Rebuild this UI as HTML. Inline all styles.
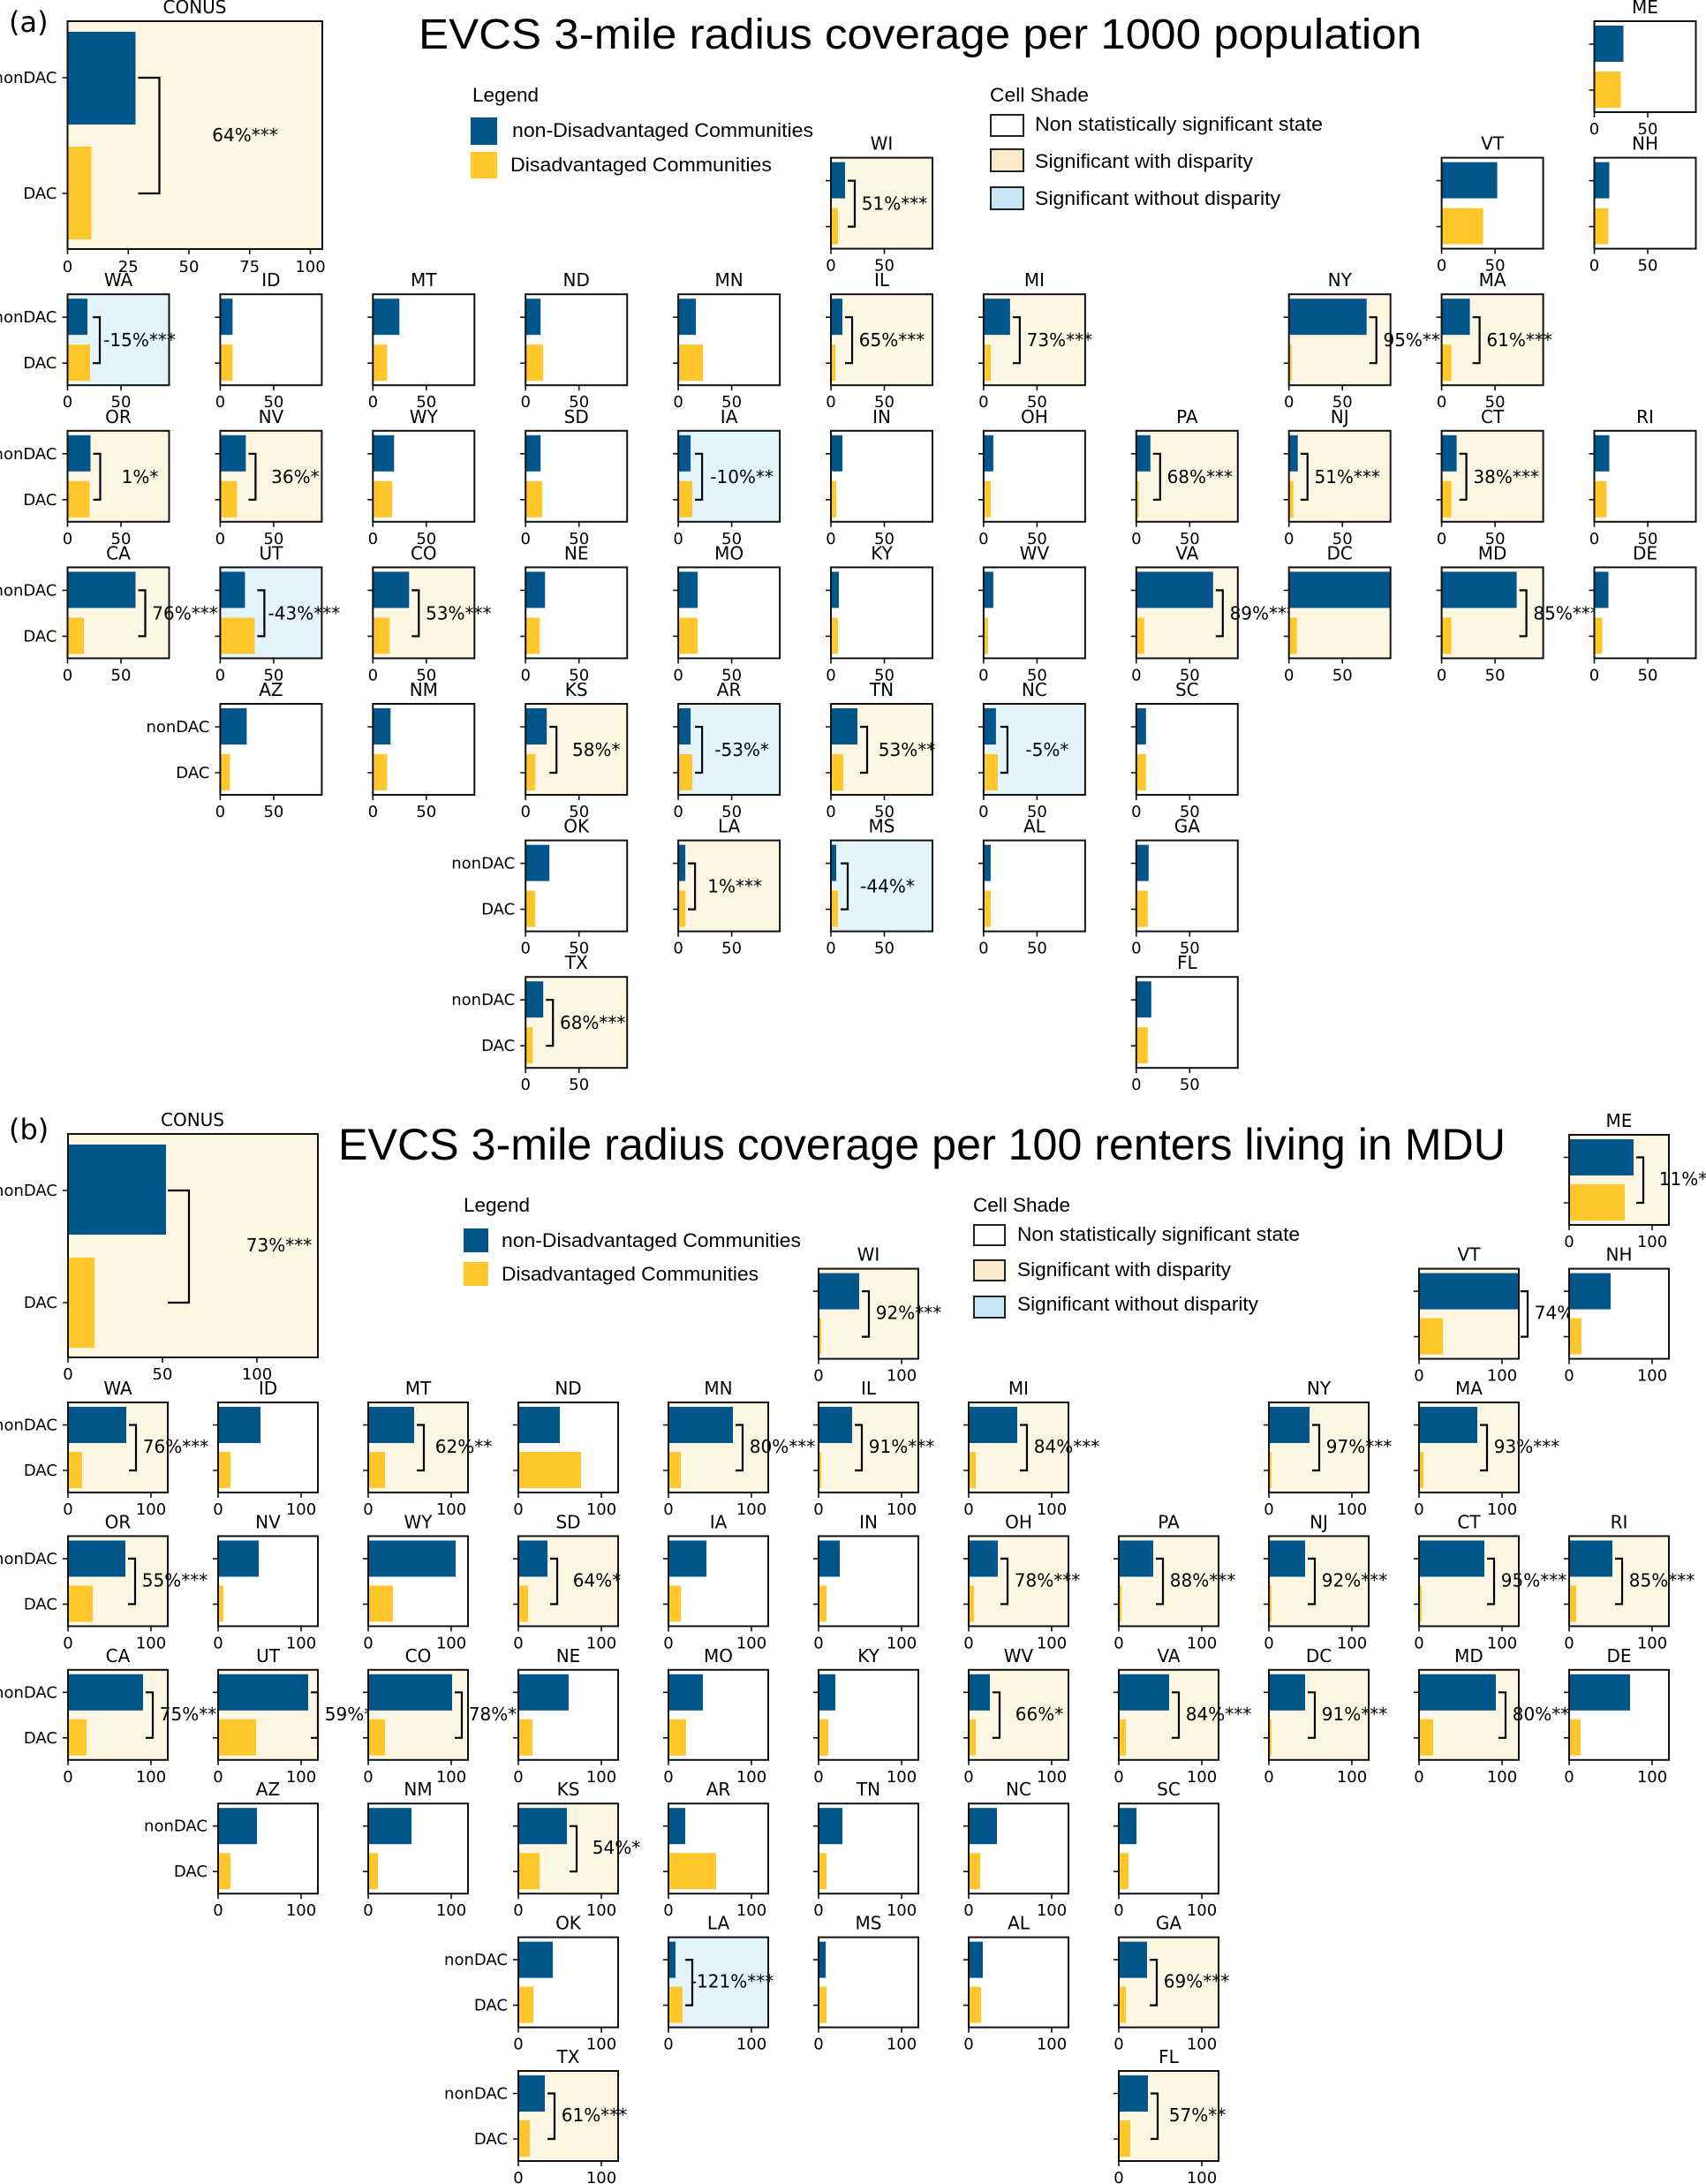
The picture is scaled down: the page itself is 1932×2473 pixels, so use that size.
<!DOCTYPE html>
<html><head><meta charset="utf-8"><style>
html,body{margin:0;padding:0;background:#fff}
svg{display:block}
.t{font-family:"DejaVu Sans",sans-serif;font-size:20px;text-anchor:middle;fill:#000}
.k{font-family:"DejaVu Sans",sans-serif;font-size:18px;text-anchor:middle;fill:#000}
.y{font-family:"DejaVu Sans",sans-serif;font-size:18px;text-anchor:end;fill:#000}
.a{font-family:"DejaVu Sans",sans-serif;font-size:20px;text-anchor:middle;fill:#000}
.L{font-family:"Liberation Sans",Arial,sans-serif;font-size:22px;fill:#000}
.T{font-family:"Liberation Sans",Arial,sans-serif;font-size:48px;fill:#000}
.br{fill:none;stroke:#000;stroke-width:2.2}
.fr{fill:none;stroke:#111;stroke-width:2}
.tk{stroke:#111;stroke-width:1.6}
</style></head><body>
<svg xmlns="http://www.w3.org/2000/svg" xmlns:xlink="http://www.w3.org/1999/xlink" width="1932" height="2473" viewBox="0 0 1932 2473">
<defs>
<path id="ta" class="tk" d="M0 103v6M60.5 103v6M0 26h-6M0 78h-6"/>
<path id="tb" class="tk" d="M0 102v6M94 102v6M0 25.5h-6M0 77h-6"/>
<rect id="fa" class="fr" width="115" height="103"/>
<rect id="fb" class="fr" width="113" height="102"/>
</defs>
<rect width="1932" height="2473" fill="#fff"/>

<!-- ===================== (a) ===================== -->
<text x="10" y="36" font-family="DejaVu Sans,sans-serif" font-size="32">(a)</text>
<text class="T" x="474" y="55" textLength="1136" lengthAdjust="spacingAndGlyphs">EVCS 3-mile radius coverage per 1000 population</text>
<text class="L" x="535" y="115" textLength="75" lengthAdjust="spacingAndGlyphs">Legend</text>
<rect x="533" y="133" width="30" height="31" fill="#03568a"/>
<text class="L" x="580" y="155" textLength="341" lengthAdjust="spacingAndGlyphs">non-Disadvantaged Communities</text>
<rect x="533" y="172" width="30" height="30" fill="#ffc72c"/>
<text class="L" x="578" y="194" textLength="296" lengthAdjust="spacingAndGlyphs">Disadvantaged Communities</text>
<text class="L" x="1121" y="115" textLength="112" lengthAdjust="spacingAndGlyphs">Cell Shade</text>
<rect x="1122" y="130" width="37" height="24" fill="#fff" stroke="#222" stroke-width="2"/>
<text class="L" x="1172" y="148" textLength="326" lengthAdjust="spacingAndGlyphs">Non statistically significant state</text>
<rect x="1122" y="169" width="37" height="25" fill="#f9ebc9" stroke="#222" stroke-width="2"/>
<text class="L" x="1172" y="190" textLength="247" lengthAdjust="spacingAndGlyphs">Significant with disparity</text>
<rect x="1122" y="212" width="37" height="25" fill="#c6e5f5" stroke="#222" stroke-width="2"/>
<text class="L" x="1172" y="232" textLength="278" lengthAdjust="spacingAndGlyphs">Significant without disparity</text>

<!-- CONUS a -->
<g transform="translate(76.5,24)">
<rect width="288.5" height="258" fill="#fdf6e3"/>
<rect y="12" width="77" height="105" fill="#03568a"/>
<rect y="142" width="27" height="105" fill="#ffc72c"/>
<path class="br" d="M80 64H104V195H80"/>
<text class="a" x="201" y="136">64%***</text>
<rect class="fr" width="288.5" height="258"/>
<path class="tk" d="M0 258v6M68.75 258v6M137.5 258v6M206.25 258v6M275 258v6M0 64h-6M0 195h-6"/>
<text class="t" x="144" y="-9">CONUS</text>
<text class="y" x="-12" y="70">nonDAC</text><text class="y" x="-12" y="201">DAC</text>
<text class="k" x="0" y="284">0</text><text class="k" x="68.75" y="284">25</text><text class="k" x="137.5" y="284">50</text><text class="k" x="206.25" y="284">75</text><text class="k" x="275" y="284">100</text>
</g>

<!-- row -2 / -1 -->
<g transform="translate(1805.5,24)"><rect width="115" height="103" fill="#fff"/><rect y="5" width="33" height="41" fill="#03568a"/><rect y="57" width="30" height="41" fill="#ffc72c"/><use xlink:href="#fa"/><use xlink:href="#ta"/><text class="t" x="57.5" y="-9">ME</text><text class="k" x="0" y="128">0</text><text class="k" x="60.5" y="128">50</text></g>
<g transform="translate(941,178.6)"><rect width="115" height="103" fill="#fdf6e3"/><rect y="5" width="16" height="41" fill="#03568a"/><rect y="57" width="8" height="41" fill="#ffc72c"/><path class="br" d="M19 26H27V78H19"/><text class="a" x="72" y="59">51%***</text><use xlink:href="#fa"/><use xlink:href="#ta"/><text class="t" x="57.5" y="-9">WI</text><text class="k" x="0" y="128">0</text><text class="k" x="60.5" y="128">50</text></g>
<g transform="translate(1632.6,178.6)"><rect width="115" height="103" fill="#fff"/><rect y="5" width="63" height="41" fill="#03568a"/><rect y="57" width="47" height="41" fill="#ffc72c"/><use xlink:href="#fa"/><use xlink:href="#ta"/><text class="t" x="57.5" y="-9">VT</text><text class="k" x="0" y="128">0</text><text class="k" x="60.5" y="128">50</text></g>
<g transform="translate(1805.5,178.6)"><rect width="115" height="103" fill="#fff"/><rect y="5" width="17" height="41" fill="#03568a"/><rect y="57" width="16" height="41" fill="#ffc72c"/><use xlink:href="#fa"/><use xlink:href="#ta"/><text class="t" x="57.5" y="-9">NH</text><text class="k" x="0" y="128">0</text><text class="k" x="60.5" y="128">50</text></g>

<!-- row 0 a -->
<g transform="translate(76.5,333.2)"><rect width="115" height="103" fill="#e3f4fc"/><rect y="5" width="22.5" height="41" fill="#03568a"/><rect y="57" width="25.5" height="41" fill="#ffc72c"/><path class="br" d="M28.5 26H36.5V78H28.5"/><text class="a" x="81.5" y="59">-15%***</text><use xlink:href="#fa"/><use xlink:href="#ta"/><text class="t" x="57.5" y="-9">WA</text><text class="y" x="-12" y="32">nonDAC</text><text class="y" x="-12" y="84">DAC</text><text class="k" x="0" y="128">0</text><text class="k" x="60.5" y="128">50</text></g>
<g transform="translate(249.4,333.2)"><rect width="115" height="103" fill="#fff"/><rect y="5" width="14" height="41" fill="#03568a"/><rect y="57" width="14" height="41" fill="#ffc72c"/><use xlink:href="#fa"/><use xlink:href="#ta"/><text class="t" x="57.5" y="-9">ID</text><text class="k" x="0" y="128">0</text><text class="k" x="60.5" y="128">50</text></g>
<g transform="translate(422.3,333.2)"><rect width="115" height="103" fill="#fff"/><rect y="5" width="30" height="41" fill="#03568a"/><rect y="57" width="16" height="41" fill="#ffc72c"/><use xlink:href="#fa"/><use xlink:href="#ta"/><text class="t" x="57.5" y="-9">MT</text><text class="k" x="0" y="128">0</text><text class="k" x="60.5" y="128">50</text></g>
<g transform="translate(595.2,333.2)"><rect width="115" height="103" fill="#fff"/><rect y="5" width="17" height="41" fill="#03568a"/><rect y="57" width="20" height="41" fill="#ffc72c"/><use xlink:href="#fa"/><use xlink:href="#ta"/><text class="t" x="57.5" y="-9">ND</text><text class="k" x="0" y="128">0</text><text class="k" x="60.5" y="128">50</text></g>
<g transform="translate(768.1,333.2)"><rect width="115" height="103" fill="#fff"/><rect y="5" width="20" height="41" fill="#03568a"/><rect y="57" width="28" height="41" fill="#ffc72c"/><use xlink:href="#fa"/><use xlink:href="#ta"/><text class="t" x="57.5" y="-9">MN</text><text class="k" x="0" y="128">0</text><text class="k" x="60.5" y="128">50</text></g>
<g transform="translate(941,333.2)"><rect width="115" height="103" fill="#fdf6e3"/><rect y="5" width="13" height="41" fill="#03568a"/><rect y="57" width="5" height="41" fill="#ffc72c"/><path class="br" d="M16 26H24V78H16"/><text class="a" x="69" y="59">65%***</text><use xlink:href="#fa"/><use xlink:href="#ta"/><text class="t" x="57.5" y="-9">IL</text><text class="k" x="0" y="128">0</text><text class="k" x="60.5" y="128">50</text></g>
<g transform="translate(1113.9,333.2)"><rect width="115" height="103" fill="#fdf6e3"/><rect y="5" width="30" height="41" fill="#03568a"/><rect y="57" width="8" height="41" fill="#ffc72c"/><path class="br" d="M33 26H41V78H33"/><text class="a" x="86" y="59">73%***</text><use xlink:href="#fa"/><use xlink:href="#ta"/><text class="t" x="57.5" y="-9">MI</text><text class="k" x="0" y="128">0</text><text class="k" x="60.5" y="128">50</text></g>
<g transform="translate(1459.7,333.2)"><rect width="115" height="103" fill="#fdf6e3"/><rect y="5" width="88" height="41" fill="#03568a"/><rect y="57" width="3" height="41" fill="#ffc72c"/><path class="br" d="M91 26H99V78H91"/><text class="a" x="144" y="59">95%***</text><use xlink:href="#fa"/><use xlink:href="#ta"/><text class="t" x="57.5" y="-9">NY</text><text class="k" x="0" y="128">0</text><text class="k" x="60.5" y="128">50</text></g>
<g transform="translate(1632.6,333.2)"><rect width="115" height="103" fill="#fdf6e3"/><rect y="5" width="32" height="41" fill="#03568a"/><rect y="57" width="11" height="41" fill="#ffc72c"/><path class="br" d="M35 26H43V78H35"/><text class="a" x="88" y="59">61%***</text><use xlink:href="#fa"/><use xlink:href="#ta"/><text class="t" x="57.5" y="-9">MA</text><text class="k" x="0" y="128">0</text><text class="k" x="60.5" y="128">50</text></g>

<!-- row 1 a -->
<g transform="translate(76.5,487.8)"><rect width="115" height="103" fill="#fdf6e3"/><rect y="5" width="26" height="41" fill="#03568a"/><rect y="57" width="25" height="41" fill="#ffc72c"/><path class="br" d="M29 26H37V78H29"/><text class="a" x="82" y="59">1%*</text><use xlink:href="#fa"/><use xlink:href="#ta"/><text class="t" x="57.5" y="-9">OR</text><text class="y" x="-12" y="32">nonDAC</text><text class="y" x="-12" y="84">DAC</text><text class="k" x="0" y="128">0</text><text class="k" x="60.5" y="128">50</text></g>
<g transform="translate(249.4,487.8)"><rect width="115" height="103" fill="#fdf6e3"/><rect y="5" width="29" height="41" fill="#03568a"/><rect y="57" width="19" height="41" fill="#ffc72c"/><path class="br" d="M32 26H40V78H32"/><text class="a" x="85" y="59">36%*</text><use xlink:href="#fa"/><use xlink:href="#ta"/><text class="t" x="57.5" y="-9">NV</text><text class="k" x="0" y="128">0</text><text class="k" x="60.5" y="128">50</text></g>
<g transform="translate(422.3,487.8)"><rect width="115" height="103" fill="#fff"/><rect y="5" width="24" height="41" fill="#03568a"/><rect y="57" width="22" height="41" fill="#ffc72c"/><use xlink:href="#fa"/><use xlink:href="#ta"/><text class="t" x="57.5" y="-9">WY</text><text class="k" x="0" y="128">0</text><text class="k" x="60.5" y="128">50</text></g>
<g transform="translate(595.2,487.8)"><rect width="115" height="103" fill="#fff"/><rect y="5" width="17" height="41" fill="#03568a"/><rect y="57" width="19" height="41" fill="#ffc72c"/><use xlink:href="#fa"/><use xlink:href="#ta"/><text class="t" x="57.5" y="-9">SD</text><text class="k" x="0" y="128">0</text><text class="k" x="60.5" y="128">50</text></g>
<g transform="translate(768.1,487.8)"><rect width="115" height="103" fill="#e3f4fc"/><rect y="5" width="14" height="41" fill="#03568a"/><rect y="57" width="16" height="41" fill="#ffc72c"/><path class="br" d="M19 26H27V78H19"/><text class="a" x="72" y="59">-10%**</text><use xlink:href="#fa"/><use xlink:href="#ta"/><text class="t" x="57.5" y="-9">IA</text><text class="k" x="0" y="128">0</text><text class="k" x="60.5" y="128">50</text></g>
<g transform="translate(941,487.8)"><rect width="115" height="103" fill="#fff"/><rect y="5" width="13" height="41" fill="#03568a"/><rect y="57" width="6" height="41" fill="#ffc72c"/><use xlink:href="#fa"/><use xlink:href="#ta"/><text class="t" x="57.5" y="-9">IN</text><text class="k" x="0" y="128">0</text><text class="k" x="60.5" y="128">50</text></g>
<g transform="translate(1113.9,487.8)"><rect width="115" height="103" fill="#fff"/><rect y="5" width="11" height="41" fill="#03568a"/><rect y="57" width="8" height="41" fill="#ffc72c"/><use xlink:href="#fa"/><use xlink:href="#ta"/><text class="t" x="57.5" y="-9">OH</text><text class="k" x="0" y="128">0</text><text class="k" x="60.5" y="128">50</text></g>
<g transform="translate(1286.8,487.8)"><rect width="115" height="103" fill="#fdf6e3"/><rect y="5" width="16" height="41" fill="#03568a"/><rect y="57" width="3" height="41" fill="#ffc72c"/><path class="br" d="M19 26H27V78H19"/><text class="a" x="72" y="59">68%***</text><use xlink:href="#fa"/><use xlink:href="#ta"/><text class="t" x="57.5" y="-9">PA</text><text class="k" x="0" y="128">0</text><text class="k" x="60.5" y="128">50</text></g>
<g transform="translate(1459.7,487.8)"><rect width="115" height="103" fill="#fdf6e3"/><rect y="5" width="10" height="41" fill="#03568a"/><rect y="57" width="5" height="41" fill="#ffc72c"/><path class="br" d="M13 26H21V78H13"/><text class="a" x="66" y="59">51%***</text><use xlink:href="#fa"/><use xlink:href="#ta"/><text class="t" x="57.5" y="-9">NJ</text><text class="k" x="0" y="128">0</text><text class="k" x="60.5" y="128">50</text></g>
<g transform="translate(1632.6,487.8)"><rect width="115" height="103" fill="#fdf6e3"/><rect y="5" width="17" height="41" fill="#03568a"/><rect y="57" width="11" height="41" fill="#ffc72c"/><path class="br" d="M20 26H28V78H20"/><text class="a" x="73" y="59">38%***</text><use xlink:href="#fa"/><use xlink:href="#ta"/><text class="t" x="57.5" y="-9">CT</text><text class="k" x="0" y="128">0</text><text class="k" x="60.5" y="128">50</text></g>
<g transform="translate(1805.5,487.8)"><rect width="115" height="103" fill="#fff"/><rect y="5" width="17" height="41" fill="#03568a"/><rect y="57" width="14" height="41" fill="#ffc72c"/><use xlink:href="#fa"/><use xlink:href="#ta"/><text class="t" x="57.5" y="-9">RI</text><text class="k" x="0" y="128">0</text><text class="k" x="60.5" y="128">50</text></g>

<!-- row 2 a -->
<g transform="translate(76.5,642.4)"><rect width="115" height="103" fill="#fdf6e3"/><rect y="5" width="77" height="41" fill="#03568a"/><rect y="57" width="18.5" height="41" fill="#ffc72c"/><path class="br" d="M80 26H88V78H80"/><text class="a" x="133" y="59">76%***</text><use xlink:href="#fa"/><use xlink:href="#ta"/><text class="t" x="57.5" y="-9">CA</text><text class="y" x="-12" y="32">nonDAC</text><text class="y" x="-12" y="84">DAC</text><text class="k" x="0" y="128">0</text><text class="k" x="60.5" y="128">50</text></g>
<g transform="translate(249.4,642.4)"><rect width="115" height="103" fill="#e3f4fc"/><rect y="5" width="28" height="41" fill="#03568a"/><rect y="57" width="39" height="41" fill="#ffc72c"/><path class="br" d="M42 26H50V78H42"/><text class="a" x="95" y="59">-43%***</text><use xlink:href="#fa"/><use xlink:href="#ta"/><text class="t" x="57.5" y="-9">UT</text><text class="k" x="0" y="128">0</text><text class="k" x="60.5" y="128">50</text></g>
<g transform="translate(422.3,642.4)"><rect width="115" height="103" fill="#fdf6e3"/><rect y="5" width="41" height="41" fill="#03568a"/><rect y="57" width="19" height="41" fill="#ffc72c"/><path class="br" d="M44 26H52V78H44"/><text class="a" x="97" y="59">53%***</text><use xlink:href="#fa"/><use xlink:href="#ta"/><text class="t" x="57.5" y="-9">CO</text><text class="k" x="0" y="128">0</text><text class="k" x="60.5" y="128">50</text></g>
<g transform="translate(595.2,642.4)"><rect width="115" height="103" fill="#fff"/><rect y="5" width="22" height="41" fill="#03568a"/><rect y="57" width="16" height="41" fill="#ffc72c"/><use xlink:href="#fa"/><use xlink:href="#ta"/><text class="t" x="57.5" y="-9">NE</text><text class="k" x="0" y="128">0</text><text class="k" x="60.5" y="128">50</text></g>
<g transform="translate(768.1,642.4)"><rect width="115" height="103" fill="#fff"/><rect y="5" width="22" height="41" fill="#03568a"/><rect y="57" width="22" height="41" fill="#ffc72c"/><use xlink:href="#fa"/><use xlink:href="#ta"/><text class="t" x="57.5" y="-9">MO</text><text class="k" x="0" y="128">0</text><text class="k" x="60.5" y="128">50</text></g>
<g transform="translate(941,642.4)"><rect width="115" height="103" fill="#fff"/><rect y="5" width="9" height="41" fill="#03568a"/><rect y="57" width="8" height="41" fill="#ffc72c"/><use xlink:href="#fa"/><use xlink:href="#ta"/><text class="t" x="57.5" y="-9">KY</text><text class="k" x="0" y="128">0</text><text class="k" x="60.5" y="128">50</text></g>
<g transform="translate(1113.9,642.4)"><rect width="115" height="103" fill="#fff"/><rect y="5" width="11" height="41" fill="#03568a"/><rect y="57" width="5" height="41" fill="#ffc72c"/><use xlink:href="#fa"/><use xlink:href="#ta"/><text class="t" x="57.5" y="-9">WV</text><text class="k" x="0" y="128">0</text><text class="k" x="60.5" y="128">50</text></g>
<g transform="translate(1286.8,642.4)"><rect width="115" height="103" fill="#fdf6e3"/><rect y="5" width="87" height="41" fill="#03568a"/><rect y="57" width="9" height="41" fill="#ffc72c"/><path class="br" d="M90 26H98V78H90"/><text class="a" x="143" y="59">89%***</text><use xlink:href="#fa"/><use xlink:href="#ta"/><text class="t" x="57.5" y="-9">VA</text><text class="k" x="0" y="128">0</text><text class="k" x="60.5" y="128">50</text></g>
<g transform="translate(1459.7,642.4)"><rect width="115" height="103" fill="#fdf6e3"/><rect y="5" width="115" height="41" fill="#03568a"/><rect y="57" width="9" height="41" fill="#ffc72c"/><use xlink:href="#fa"/><use xlink:href="#ta"/><text class="t" x="57.5" y="-9">DC</text><text class="k" x="0" y="128">0</text><text class="k" x="60.5" y="128">50</text></g>
<g transform="translate(1632.6,642.4)"><rect width="115" height="103" fill="#fdf6e3"/><rect y="5" width="85" height="41" fill="#03568a"/><rect y="57" width="11" height="41" fill="#ffc72c"/><path class="br" d="M88 26H96V78H88"/><text class="a" x="141" y="59">85%***</text><use xlink:href="#fa"/><use xlink:href="#ta"/><text class="t" x="57.5" y="-9">MD</text><text class="k" x="0" y="128">0</text><text class="k" x="60.5" y="128">50</text></g>
<g transform="translate(1805.5,642.4)"><rect width="115" height="103" fill="#fff"/><rect y="5" width="16" height="41" fill="#03568a"/><rect y="57" width="9" height="41" fill="#ffc72c"/><use xlink:href="#fa"/><use xlink:href="#ta"/><text class="t" x="57.5" y="-9">DE</text><text class="k" x="0" y="128">0</text><text class="k" x="60.5" y="128">50</text></g>

<!-- row 3 a -->
<g transform="translate(249.4,797)"><rect width="115" height="103" fill="#fff"/><rect y="5" width="30" height="41" fill="#03568a"/><rect y="57" width="11" height="41" fill="#ffc72c"/><use xlink:href="#fa"/><use xlink:href="#ta"/><text class="t" x="57.5" y="-9">AZ</text><text class="y" x="-12" y="32">nonDAC</text><text class="y" x="-12" y="84">DAC</text><text class="k" x="0" y="128">0</text><text class="k" x="60.5" y="128">50</text></g>
<g transform="translate(422.3,797)"><rect width="115" height="103" fill="#fff"/><rect y="5" width="20" height="41" fill="#03568a"/><rect y="57" width="16" height="41" fill="#ffc72c"/><use xlink:href="#fa"/><use xlink:href="#ta"/><text class="t" x="57.5" y="-9">NM</text><text class="k" x="0" y="128">0</text><text class="k" x="60.5" y="128">50</text></g>
<g transform="translate(595.2,797)"><rect width="115" height="103" fill="#fdf6e3"/><rect y="5" width="24" height="41" fill="#03568a"/><rect y="57" width="11" height="41" fill="#ffc72c"/><path class="br" d="M27 26H35V78H27"/><text class="a" x="80" y="59">58%*</text><use xlink:href="#fa"/><use xlink:href="#ta"/><text class="t" x="57.5" y="-9">KS</text><text class="k" x="0" y="128">0</text><text class="k" x="60.5" y="128">50</text></g>
<g transform="translate(768.1,797)"><rect width="115" height="103" fill="#e3f4fc"/><rect y="5" width="14" height="41" fill="#03568a"/><rect y="57" width="16" height="41" fill="#ffc72c"/><path class="br" d="M19 26H27V78H19"/><text class="a" x="72" y="59">-53%*</text><use xlink:href="#fa"/><use xlink:href="#ta"/><text class="t" x="57.5" y="-9">AR</text><text class="k" x="0" y="128">0</text><text class="k" x="60.5" y="128">50</text></g>
<g transform="translate(941,797)"><rect width="115" height="103" fill="#fdf6e3"/><rect y="5" width="30" height="41" fill="#03568a"/><rect y="57" width="14" height="41" fill="#ffc72c"/><path class="br" d="M33 26H41V78H33"/><text class="a" x="86" y="59">53%**</text><use xlink:href="#fa"/><use xlink:href="#ta"/><text class="t" x="57.5" y="-9">TN</text><text class="k" x="0" y="128">0</text><text class="k" x="60.5" y="128">50</text></g>
<g transform="translate(1113.9,797)"><rect width="115" height="103" fill="#e3f4fc"/><rect y="5" width="14" height="41" fill="#03568a"/><rect y="57" width="16" height="41" fill="#ffc72c"/><path class="br" d="M19 26H27V78H19"/><text class="a" x="72" y="59">-5%*</text><use xlink:href="#fa"/><use xlink:href="#ta"/><text class="t" x="57.5" y="-9">NC</text><text class="k" x="0" y="128">0</text><text class="k" x="60.5" y="128">50</text></g>
<g transform="translate(1286.8,797)"><rect width="115" height="103" fill="#fff"/><rect y="5" width="11" height="41" fill="#03568a"/><rect y="57" width="11" height="41" fill="#ffc72c"/><use xlink:href="#fa"/><use xlink:href="#ta"/><text class="t" x="57.5" y="-9">SC</text><text class="k" x="0" y="128">0</text><text class="k" x="60.5" y="128">50</text></g>

<!-- row 4 a -->
<g transform="translate(595.2,951.6)"><rect width="115" height="103" fill="#fff"/><rect y="5" width="27" height="41" fill="#03568a"/><rect y="57" width="11" height="41" fill="#ffc72c"/><use xlink:href="#fa"/><use xlink:href="#ta"/><text class="t" x="57.5" y="-9">OK</text><text class="y" x="-12" y="32">nonDAC</text><text class="y" x="-12" y="84">DAC</text><text class="k" x="0" y="128">0</text><text class="k" x="60.5" y="128">50</text></g>
<g transform="translate(768.1,951.6)"><rect width="115" height="103" fill="#fdf6e3"/><rect y="5" width="8" height="41" fill="#03568a"/><rect y="57" width="8" height="41" fill="#ffc72c"/><path class="br" d="M11 26H19V78H11"/><text class="a" x="64" y="59">1%***</text><use xlink:href="#fa"/><use xlink:href="#ta"/><text class="t" x="57.5" y="-9">LA</text><text class="k" x="0" y="128">0</text><text class="k" x="60.5" y="128">50</text></g>
<g transform="translate(941,951.6)"><rect width="115" height="103" fill="#e3f4fc"/><rect y="5" width="6" height="41" fill="#03568a"/><rect y="57" width="8" height="41" fill="#ffc72c"/><path class="br" d="M11 26H19V78H11"/><text class="a" x="64" y="59">-44%*</text><use xlink:href="#fa"/><use xlink:href="#ta"/><text class="t" x="57.5" y="-9">MS</text><text class="k" x="0" y="128">0</text><text class="k" x="60.5" y="128">50</text></g>
<g transform="translate(1113.9,951.6)"><rect width="115" height="103" fill="#fff"/><rect y="5" width="8" height="41" fill="#03568a"/><rect y="57" width="8" height="41" fill="#ffc72c"/><use xlink:href="#fa"/><use xlink:href="#ta"/><text class="t" x="57.5" y="-9">AL</text><text class="k" x="0" y="128">0</text><text class="k" x="60.5" y="128">50</text></g>
<g transform="translate(1286.8,951.6)"><rect width="115" height="103" fill="#fff"/><rect y="5" width="14" height="41" fill="#03568a"/><rect y="57" width="13" height="41" fill="#ffc72c"/><use xlink:href="#fa"/><use xlink:href="#ta"/><text class="t" x="57.5" y="-9">GA</text><text class="k" x="0" y="128">0</text><text class="k" x="60.5" y="128">50</text></g>

<!-- row 5 a -->
<g transform="translate(595.2,1106.2)"><rect width="115" height="103" fill="#fdf6e3"/><rect y="5" width="20" height="41" fill="#03568a"/><rect y="57" width="8" height="41" fill="#ffc72c"/><path class="br" d="M23 26H31V78H23"/><text class="a" x="76" y="59">68%***</text><use xlink:href="#fa"/><use xlink:href="#ta"/><text class="t" x="57.5" y="-9">TX</text><text class="y" x="-12" y="32">nonDAC</text><text class="y" x="-12" y="84">DAC</text><text class="k" x="0" y="128">0</text><text class="k" x="60.5" y="128">50</text></g>
<g transform="translate(1286.8,1106.2)"><rect width="115" height="103" fill="#fff"/><rect y="5" width="17" height="41" fill="#03568a"/><rect y="57" width="13" height="41" fill="#ffc72c"/><use xlink:href="#fa"/><use xlink:href="#ta"/><text class="t" x="57.5" y="-9">FL</text><text class="k" x="0" y="128">0</text><text class="k" x="60.5" y="128">50</text></g>

<!-- ===================== (b) ===================== -->
<text x="10" y="1290" font-family="DejaVu Sans,sans-serif" font-size="32">(b)</text>
<text class="T" x="383" y="1313" font-size="50" textLength="1322" lengthAdjust="spacingAndGlyphs" style="font-size:50px">EVCS 3-mile radius coverage per 100 renters living in MDU</text>
<text class="L" x="525" y="1372" textLength="75" lengthAdjust="spacingAndGlyphs">Legend</text>
<rect x="525" y="1391" width="28" height="27" fill="#03568a"/>
<text class="L" x="568" y="1412" textLength="339" lengthAdjust="spacingAndGlyphs">non-Disadvantaged Communities</text>
<rect x="525" y="1429" width="28" height="27" fill="#ffc72c"/>
<text class="L" x="568" y="1450" textLength="291" lengthAdjust="spacingAndGlyphs">Disadvantaged Communities</text>
<text class="L" x="1102" y="1372" textLength="110" lengthAdjust="spacingAndGlyphs">Cell Shade</text>
<rect x="1103" y="1387" width="35" height="23" fill="#fff" stroke="#222" stroke-width="2"/>
<text class="L" x="1152" y="1405" textLength="320" lengthAdjust="spacingAndGlyphs">Non statistically significant state</text>
<rect x="1103" y="1427" width="35" height="23" fill="#f9ebc9" stroke="#222" stroke-width="2"/>
<text class="L" x="1152" y="1445" textLength="242" lengthAdjust="spacingAndGlyphs">Significant with disparity</text>
<rect x="1103" y="1468" width="35" height="24" fill="#c6e5f5" stroke="#222" stroke-width="2"/>
<text class="L" x="1152" y="1484" textLength="273" lengthAdjust="spacingAndGlyphs">Significant without disparity</text>

<!-- CONUS b -->
<g transform="translate(77,1284)">
<rect width="283" height="253" fill="#fdf6e3"/>
<rect y="12" width="111" height="102" fill="#03568a"/>
<rect y="140" width="30" height="102" fill="#ffc72c"/>
<path class="br" d="M113 64H137V191H113"/>
<text class="a" x="239" y="133">73%***</text>
<rect class="fr" width="283" height="253"/>
<path class="tk" d="M0 253v6M107 253v6M214 253v6M0 64h-6M0 191h-6"/>
<text class="t" x="141" y="-9">CONUS</text>
<text class="y" x="-12" y="70">nonDAC</text><text class="y" x="-12" y="197">DAC</text>
<text class="k" x="0" y="278">0</text><text class="k" x="107" y="278">50</text><text class="k" x="214" y="278">100</text>
</g>

<!-- row -2/-1 b -->
<g transform="translate(1777,1285)"><rect width="113" height="102" fill="#fdf6e3"/><rect y="5" width="73" height="41" fill="#03568a"/><rect y="56" width="63" height="41" fill="#ffc72c"/><path class="br" d="M76 25.5H84V77H76"/><text class="a" x="129" y="57">11%*</text><use xlink:href="#fb"/><use xlink:href="#tb"/><text class="t" x="56.5" y="-9">ME</text><text class="k" x="0" y="127">0</text><text class="k" x="94" y="127">100</text></g>
<g transform="translate(927,1436.6)"><rect width="113" height="102" fill="#fdf6e3"/><rect y="5" width="46" height="41" fill="#03568a"/><rect y="56" width="3" height="41" fill="#ffc72c"/><path class="br" d="M49 25.5H57V77H49"/><text class="a" x="102" y="57">92%***</text><use xlink:href="#fb"/><use xlink:href="#tb"/><text class="t" x="56.5" y="-9">WI</text><text class="k" x="0" y="127">0</text><text class="k" x="94" y="127">100</text></g>
<g transform="translate(1607,1436.6)"><rect width="113" height="102" fill="#fdf6e3"/><rect y="5" width="112" height="41" fill="#03568a"/><rect y="56" width="27" height="41" fill="#ffc72c"/><path class="br" d="M115 25.5H123V77H115"/><text class="a" x="168" y="57">74%***</text><use xlink:href="#fb"/><use xlink:href="#tb"/><text class="t" x="56.5" y="-9">VT</text><text class="k" x="0" y="127">0</text><text class="k" x="94" y="127">100</text></g>
<g transform="translate(1777,1436.6)"><rect width="113" height="102" fill="#fff"/><rect y="5" width="47" height="41" fill="#03568a"/><rect y="56" width="14" height="41" fill="#ffc72c"/><use xlink:href="#fb"/><use xlink:href="#tb"/><text class="t" x="56.5" y="-9">NH</text><text class="k" x="0" y="127">0</text><text class="k" x="94" y="127">100</text></g>

<!-- row 0 b -->
<g transform="translate(77,1588)"><rect width="113" height="102" fill="#fdf6e3"/><rect y="5" width="66" height="41" fill="#03568a"/><rect y="56" width="16" height="41" fill="#ffc72c"/><path class="br" d="M69 25.5H77V77H69"/><text class="a" x="122" y="57">76%***</text><use xlink:href="#fb"/><use xlink:href="#tb"/><text class="t" x="56.5" y="-9">WA</text><text class="y" x="-12" y="31.5">nonDAC</text><text class="y" x="-12" y="83">DAC</text><text class="k" x="0" y="127">0</text><text class="k" x="94" y="127">100</text></g>
<g transform="translate(247,1588)"><rect width="113" height="102" fill="#fff"/><rect y="5" width="48" height="41" fill="#03568a"/><rect y="56" width="14" height="41" fill="#ffc72c"/><use xlink:href="#fb"/><use xlink:href="#tb"/><text class="t" x="56.5" y="-9">ID</text><text class="k" x="0" y="127">0</text><text class="k" x="94" y="127">100</text></g>
<g transform="translate(417,1588)"><rect width="113" height="102" fill="#fdf6e3"/><rect y="5" width="52" height="41" fill="#03568a"/><rect y="56" width="19" height="41" fill="#ffc72c"/><path class="br" d="M55 25.5H63V77H55"/><text class="a" x="108" y="57">62%**</text><use xlink:href="#fb"/><use xlink:href="#tb"/><text class="t" x="56.5" y="-9">MT</text><text class="k" x="0" y="127">0</text><text class="k" x="94" y="127">100</text></g>
<g transform="translate(587,1588)"><rect width="113" height="102" fill="#fff"/><rect y="5" width="47" height="41" fill="#03568a"/><rect y="56" width="71" height="41" fill="#ffc72c"/><use xlink:href="#fb"/><use xlink:href="#tb"/><text class="t" x="56.5" y="-9">ND</text><text class="k" x="0" y="127">0</text><text class="k" x="94" y="127">100</text></g>
<g transform="translate(757,1588)"><rect width="113" height="102" fill="#fdf6e3"/><rect y="5" width="73" height="41" fill="#03568a"/><rect y="56" width="14" height="41" fill="#ffc72c"/><path class="br" d="M76 25.5H84V77H76"/><text class="a" x="129" y="57">80%***</text><use xlink:href="#fb"/><use xlink:href="#tb"/><text class="t" x="56.5" y="-9">MN</text><text class="k" x="0" y="127">0</text><text class="k" x="94" y="127">100</text></g>
<g transform="translate(927,1588)"><rect width="113" height="102" fill="#fdf6e3"/><rect y="5" width="38" height="41" fill="#03568a"/><rect y="56" width="3" height="41" fill="#ffc72c"/><path class="br" d="M41 25.5H49V77H41"/><text class="a" x="94" y="57">91%***</text><use xlink:href="#fb"/><use xlink:href="#tb"/><text class="t" x="56.5" y="-9">IL</text><text class="k" x="0" y="127">0</text><text class="k" x="94" y="127">100</text></g>
<g transform="translate(1097,1588)"><rect width="113" height="102" fill="#fdf6e3"/><rect y="5" width="55" height="41" fill="#03568a"/><rect y="56" width="8" height="41" fill="#ffc72c"/><path class="br" d="M58 25.5H66V77H58"/><text class="a" x="111" y="57">84%***</text><use xlink:href="#fb"/><use xlink:href="#tb"/><text class="t" x="56.5" y="-9">MI</text><text class="k" x="0" y="127">0</text><text class="k" x="94" y="127">100</text></g>
<g transform="translate(1437,1588)"><rect width="113" height="102" fill="#fdf6e3"/><rect y="5" width="46" height="41" fill="#03568a"/><rect y="56" width="3" height="41" fill="#ffc72c"/><path class="br" d="M49 25.5H57V77H49"/><text class="a" x="102" y="57">97%***</text><use xlink:href="#fb"/><use xlink:href="#tb"/><text class="t" x="56.5" y="-9">NY</text><text class="k" x="0" y="127">0</text><text class="k" x="94" y="127">100</text></g>
<g transform="translate(1607,1588)"><rect width="113" height="102" fill="#fdf6e3"/><rect y="5" width="66" height="41" fill="#03568a"/><rect y="56" width="5" height="41" fill="#ffc72c"/><path class="br" d="M69 25.5H77V77H69"/><text class="a" x="122" y="57">93%***</text><use xlink:href="#fb"/><use xlink:href="#tb"/><text class="t" x="56.5" y="-9">MA</text><text class="k" x="0" y="127">0</text><text class="k" x="94" y="127">100</text></g>

<!-- row 1 b -->
<g transform="translate(77,1739.4)"><rect width="113" height="102" fill="#fdf6e3"/><rect y="5" width="65" height="41" fill="#03568a"/><rect y="56" width="28" height="41" fill="#ffc72c"/><path class="br" d="M68 25.5H76V77H68"/><text class="a" x="121" y="57">55%***</text><use xlink:href="#fb"/><use xlink:href="#tb"/><text class="t" x="56.5" y="-9">OR</text><text class="y" x="-12" y="31.5">nonDAC</text><text class="y" x="-12" y="83">DAC</text><text class="k" x="0" y="127">0</text><text class="k" x="94" y="127">100</text></g>
<g transform="translate(247,1739.4)"><rect width="113" height="102" fill="#fff"/><rect y="5" width="46" height="41" fill="#03568a"/><rect y="56" width="6" height="41" fill="#ffc72c"/><use xlink:href="#fb"/><use xlink:href="#tb"/><text class="t" x="56.5" y="-9">NV</text><text class="k" x="0" y="127">0</text><text class="k" x="94" y="127">100</text></g>
<g transform="translate(417,1739.4)"><rect width="113" height="102" fill="#fff"/><rect y="5" width="99" height="41" fill="#03568a"/><rect y="56" width="28" height="41" fill="#ffc72c"/><use xlink:href="#fb"/><use xlink:href="#tb"/><text class="t" x="56.5" y="-9">WY</text><text class="k" x="0" y="127">0</text><text class="k" x="94" y="127">100</text></g>
<g transform="translate(587,1739.4)"><rect width="113" height="102" fill="#fdf6e3"/><rect y="5" width="33" height="41" fill="#03568a"/><rect y="56" width="11" height="41" fill="#ffc72c"/><path class="br" d="M36 25.5H44V77H36"/><text class="a" x="89" y="57">64%*</text><use xlink:href="#fb"/><use xlink:href="#tb"/><text class="t" x="56.5" y="-9">SD</text><text class="k" x="0" y="127">0</text><text class="k" x="94" y="127">100</text></g>
<g transform="translate(757,1739.4)"><rect width="113" height="102" fill="#fff"/><rect y="5" width="43" height="41" fill="#03568a"/><rect y="56" width="14" height="41" fill="#ffc72c"/><use xlink:href="#fb"/><use xlink:href="#tb"/><text class="t" x="56.5" y="-9">IA</text><text class="k" x="0" y="127">0</text><text class="k" x="94" y="127">100</text></g>
<g transform="translate(927,1739.4)"><rect width="113" height="102" fill="#fff"/><rect y="5" width="24" height="41" fill="#03568a"/><rect y="56" width="9" height="41" fill="#ffc72c"/><use xlink:href="#fb"/><use xlink:href="#tb"/><text class="t" x="56.5" y="-9">IN</text><text class="k" x="0" y="127">0</text><text class="k" x="94" y="127">100</text></g>
<g transform="translate(1097,1739.4)"><rect width="113" height="102" fill="#fdf6e3"/><rect y="5" width="33" height="41" fill="#03568a"/><rect y="56" width="6" height="41" fill="#ffc72c"/><path class="br" d="M36 25.5H44V77H36"/><text class="a" x="89" y="57">78%***</text><use xlink:href="#fb"/><use xlink:href="#tb"/><text class="t" x="56.5" y="-9">OH</text><text class="k" x="0" y="127">0</text><text class="k" x="94" y="127">100</text></g>
<g transform="translate(1267,1739.4)"><rect width="113" height="102" fill="#fdf6e3"/><rect y="5" width="39" height="41" fill="#03568a"/><rect y="56" width="3" height="41" fill="#ffc72c"/><path class="br" d="M42 25.5H50V77H42"/><text class="a" x="95" y="57">88%***</text><use xlink:href="#fb"/><use xlink:href="#tb"/><text class="t" x="56.5" y="-9">PA</text><text class="k" x="0" y="127">0</text><text class="k" x="94" y="127">100</text></g>
<g transform="translate(1437,1739.4)"><rect width="113" height="102" fill="#fdf6e3"/><rect y="5" width="41" height="41" fill="#03568a"/><rect y="56" width="3" height="41" fill="#ffc72c"/><path class="br" d="M44 25.5H52V77H44"/><text class="a" x="97" y="57">92%***</text><use xlink:href="#fb"/><use xlink:href="#tb"/><text class="t" x="56.5" y="-9">NJ</text><text class="k" x="0" y="127">0</text><text class="k" x="94" y="127">100</text></g>
<g transform="translate(1607,1739.4)"><rect width="113" height="102" fill="#fdf6e3"/><rect y="5" width="74" height="41" fill="#03568a"/><rect y="56" width="3" height="41" fill="#ffc72c"/><path class="br" d="M77 25.5H85V77H77"/><text class="a" x="130" y="57">95%***</text><use xlink:href="#fb"/><use xlink:href="#tb"/><text class="t" x="56.5" y="-9">CT</text><text class="k" x="0" y="127">0</text><text class="k" x="94" y="127">100</text></g>
<g transform="translate(1777,1739.4)"><rect width="113" height="102" fill="#fdf6e3"/><rect y="5" width="49" height="41" fill="#03568a"/><rect y="56" width="8" height="41" fill="#ffc72c"/><path class="br" d="M52 25.5H60V77H52"/><text class="a" x="105" y="57">85%***</text><use xlink:href="#fb"/><use xlink:href="#tb"/><text class="t" x="56.5" y="-9">RI</text><text class="k" x="0" y="127">0</text><text class="k" x="94" y="127">100</text></g>

<!-- row 2 b -->
<g transform="translate(77,1890.8)"><rect width="113" height="102" fill="#fdf6e3"/><rect y="5" width="85" height="41" fill="#03568a"/><rect y="56" width="21" height="41" fill="#ffc72c"/><path class="br" d="M88 25.5H96V77H88"/><text class="a" x="141" y="57">75%***</text><use xlink:href="#fb"/><use xlink:href="#tb"/><text class="t" x="56.5" y="-9">CA</text><text class="y" x="-12" y="31.5">nonDAC</text><text class="y" x="-12" y="83">DAC</text><text class="k" x="0" y="127">0</text><text class="k" x="94" y="127">100</text></g>
<g transform="translate(247,1890.8)"><rect width="113" height="102" fill="#fdf6e3"/><rect y="5" width="102" height="41" fill="#03568a"/><rect y="56" width="43" height="41" fill="#ffc72c"/><path class="br" d="M105 25.5H113V77H105"/><text class="a" x="158" y="57">59%***</text><use xlink:href="#fb"/><use xlink:href="#tb"/><text class="t" x="56.5" y="-9">UT</text><text class="k" x="0" y="127">0</text><text class="k" x="94" y="127">100</text></g>
<g transform="translate(417,1890.8)"><rect width="113" height="102" fill="#fdf6e3"/><rect y="5" width="95" height="41" fill="#03568a"/><rect y="56" width="19" height="41" fill="#ffc72c"/><path class="br" d="M98 25.5H106V77H98"/><text class="a" x="151" y="57">78%***</text><use xlink:href="#fb"/><use xlink:href="#tb"/><text class="t" x="56.5" y="-9">CO</text><text class="k" x="0" y="127">0</text><text class="k" x="94" y="127">100</text></g>
<g transform="translate(587,1890.8)"><rect width="113" height="102" fill="#fff"/><rect y="5" width="57" height="41" fill="#03568a"/><rect y="56" width="16" height="41" fill="#ffc72c"/><use xlink:href="#fb"/><use xlink:href="#tb"/><text class="t" x="56.5" y="-9">NE</text><text class="k" x="0" y="127">0</text><text class="k" x="94" y="127">100</text></g>
<g transform="translate(757,1890.8)"><rect width="113" height="102" fill="#fff"/><rect y="5" width="39" height="41" fill="#03568a"/><rect y="56" width="20" height="41" fill="#ffc72c"/><use xlink:href="#fb"/><use xlink:href="#tb"/><text class="t" x="56.5" y="-9">MO</text><text class="k" x="0" y="127">0</text><text class="k" x="94" y="127">100</text></g>
<g transform="translate(927,1890.8)"><rect width="113" height="102" fill="#fff"/><rect y="5" width="19" height="41" fill="#03568a"/><rect y="56" width="11" height="41" fill="#ffc72c"/><use xlink:href="#fb"/><use xlink:href="#tb"/><text class="t" x="56.5" y="-9">KY</text><text class="k" x="0" y="127">0</text><text class="k" x="94" y="127">100</text></g>
<g transform="translate(1097,1890.8)"><rect width="113" height="102" fill="#fdf6e3"/><rect y="5" width="24" height="41" fill="#03568a"/><rect y="56" width="8" height="41" fill="#ffc72c"/><path class="br" d="M27 25.5H35V77H27"/><text class="a" x="80" y="57">66%*</text><use xlink:href="#fb"/><use xlink:href="#tb"/><text class="t" x="56.5" y="-9">WV</text><text class="k" x="0" y="127">0</text><text class="k" x="94" y="127">100</text></g>
<g transform="translate(1267,1890.8)"><rect width="113" height="102" fill="#fdf6e3"/><rect y="5" width="57" height="41" fill="#03568a"/><rect y="56" width="8" height="41" fill="#ffc72c"/><path class="br" d="M60 25.5H68V77H60"/><text class="a" x="113" y="57">84%***</text><use xlink:href="#fb"/><use xlink:href="#tb"/><text class="t" x="56.5" y="-9">VA</text><text class="k" x="0" y="127">0</text><text class="k" x="94" y="127">100</text></g>
<g transform="translate(1437,1890.8)"><rect width="113" height="102" fill="#fdf6e3"/><rect y="5" width="41" height="41" fill="#03568a"/><rect y="56" width="3" height="41" fill="#ffc72c"/><path class="br" d="M44 25.5H52V77H44"/><text class="a" x="97" y="57">91%***</text><use xlink:href="#fb"/><use xlink:href="#tb"/><text class="t" x="56.5" y="-9">DC</text><text class="k" x="0" y="127">0</text><text class="k" x="94" y="127">100</text></g>
<g transform="translate(1607,1890.8)"><rect width="113" height="102" fill="#fdf6e3"/><rect y="5" width="87" height="41" fill="#03568a"/><rect y="56" width="16" height="41" fill="#ffc72c"/><path class="br" d="M90 25.5H98V77H90"/><text class="a" x="143" y="57">80%***</text><use xlink:href="#fb"/><use xlink:href="#tb"/><text class="t" x="56.5" y="-9">MD</text><text class="k" x="0" y="127">0</text><text class="k" x="94" y="127">100</text></g>
<g transform="translate(1777,1890.8)"><rect width="113" height="102" fill="#fff"/><rect y="5" width="69" height="41" fill="#03568a"/><rect y="56" width="13" height="41" fill="#ffc72c"/><use xlink:href="#fb"/><use xlink:href="#tb"/><text class="t" x="56.5" y="-9">DE</text><text class="k" x="0" y="127">0</text><text class="k" x="94" y="127">100</text></g>

<!-- row 3 b -->
<g transform="translate(247,2042.2)"><rect width="113" height="102" fill="#fff"/><rect y="5" width="44" height="41" fill="#03568a"/><rect y="56" width="14" height="41" fill="#ffc72c"/><use xlink:href="#fb"/><use xlink:href="#tb"/><text class="t" x="56.5" y="-9">AZ</text><text class="y" x="-12" y="31.5">nonDAC</text><text class="y" x="-12" y="83">DAC</text><text class="k" x="0" y="127">0</text><text class="k" x="94" y="127">100</text></g>
<g transform="translate(417,2042.2)"><rect width="113" height="102" fill="#fff"/><rect y="5" width="49" height="41" fill="#03568a"/><rect y="56" width="11" height="41" fill="#ffc72c"/><use xlink:href="#fb"/><use xlink:href="#tb"/><text class="t" x="56.5" y="-9">NM</text><text class="k" x="0" y="127">0</text><text class="k" x="94" y="127">100</text></g>
<g transform="translate(587,2042.2)"><rect width="113" height="102" fill="#fdf6e3"/><rect y="5" width="55" height="41" fill="#03568a"/><rect y="56" width="24" height="41" fill="#ffc72c"/><path class="br" d="M58 25.5H66V77H58"/><text class="a" x="111" y="57">54%*</text><use xlink:href="#fb"/><use xlink:href="#tb"/><text class="t" x="56.5" y="-9">KS</text><text class="k" x="0" y="127">0</text><text class="k" x="94" y="127">100</text></g>
<g transform="translate(757,2042.2)"><rect width="113" height="102" fill="#fff"/><rect y="5" width="19" height="41" fill="#03568a"/><rect y="56" width="54" height="41" fill="#ffc72c"/><use xlink:href="#fb"/><use xlink:href="#tb"/><text class="t" x="56.5" y="-9">AR</text><text class="k" x="0" y="127">0</text><text class="k" x="94" y="127">100</text></g>
<g transform="translate(927,2042.2)"><rect width="113" height="102" fill="#fff"/><rect y="5" width="27" height="41" fill="#03568a"/><rect y="56" width="9" height="41" fill="#ffc72c"/><use xlink:href="#fb"/><use xlink:href="#tb"/><text class="t" x="56.5" y="-9">TN</text><text class="k" x="0" y="127">0</text><text class="k" x="94" y="127">100</text></g>
<g transform="translate(1097,2042.2)"><rect width="113" height="102" fill="#fff"/><rect y="5" width="32" height="41" fill="#03568a"/><rect y="56" width="13" height="41" fill="#ffc72c"/><use xlink:href="#fb"/><use xlink:href="#tb"/><text class="t" x="56.5" y="-9">NC</text><text class="k" x="0" y="127">0</text><text class="k" x="94" y="127">100</text></g>
<g transform="translate(1267,2042.2)"><rect width="113" height="102" fill="#fff"/><rect y="5" width="20" height="41" fill="#03568a"/><rect y="56" width="11" height="41" fill="#ffc72c"/><use xlink:href="#fb"/><use xlink:href="#tb"/><text class="t" x="56.5" y="-9">SC</text><text class="k" x="0" y="127">0</text><text class="k" x="94" y="127">100</text></g>

<!-- row 4 b -->
<g transform="translate(587,2193.6)"><rect width="113" height="102" fill="#fff"/><rect y="5" width="39" height="41" fill="#03568a"/><rect y="56" width="17" height="41" fill="#ffc72c"/><use xlink:href="#fb"/><use xlink:href="#tb"/><text class="t" x="56.5" y="-9">OK</text><text class="y" x="-12" y="31.5">nonDAC</text><text class="y" x="-12" y="83">DAC</text><text class="k" x="0" y="127">0</text><text class="k" x="94" y="127">100</text></g>
<g transform="translate(757,2193.6)"><rect width="113" height="102" fill="#e3f4fc"/><rect y="5" width="8" height="41" fill="#03568a"/><rect y="56" width="16" height="41" fill="#ffc72c"/><path class="br" d="M19 25.5H27V77H19"/><text class="a" x="72" y="57">-121%***</text><use xlink:href="#fb"/><use xlink:href="#tb"/><text class="t" x="56.5" y="-9">LA</text><text class="k" x="0" y="127">0</text><text class="k" x="94" y="127">100</text></g>
<g transform="translate(927,2193.6)"><rect width="113" height="102" fill="#fff"/><rect y="5" width="8" height="41" fill="#03568a"/><rect y="56" width="9" height="41" fill="#ffc72c"/><use xlink:href="#fb"/><use xlink:href="#tb"/><text class="t" x="56.5" y="-9">MS</text><text class="k" x="0" y="127">0</text><text class="k" x="94" y="127">100</text></g>
<g transform="translate(1097,2193.6)"><rect width="113" height="102" fill="#fff"/><rect y="5" width="16" height="41" fill="#03568a"/><rect y="56" width="14" height="41" fill="#ffc72c"/><use xlink:href="#fb"/><use xlink:href="#tb"/><text class="t" x="56.5" y="-9">AL</text><text class="k" x="0" y="127">0</text><text class="k" x="94" y="127">100</text></g>
<g transform="translate(1267,2193.6)"><rect width="113" height="102" fill="#fdf6e3"/><rect y="5" width="32" height="41" fill="#03568a"/><rect y="56" width="8" height="41" fill="#ffc72c"/><path class="br" d="M35 25.5H43V77H35"/><text class="a" x="88" y="57">69%***</text><use xlink:href="#fb"/><use xlink:href="#tb"/><text class="t" x="56.5" y="-9">GA</text><text class="k" x="0" y="127">0</text><text class="k" x="94" y="127">100</text></g>

<!-- row 5 b -->
<g transform="translate(587,2345)"><rect width="113" height="102" fill="#fdf6e3"/><rect y="5" width="30" height="41" fill="#03568a"/><rect y="56" width="13" height="41" fill="#ffc72c"/><path class="br" d="M33 25.5H41V77H33"/><text class="a" x="86" y="57">61%***</text><use xlink:href="#fb"/><use xlink:href="#tb"/><text class="t" x="56.5" y="-9">TX</text><text class="y" x="-12" y="31.5">nonDAC</text><text class="y" x="-12" y="83">DAC</text><text class="k" x="0" y="127">0</text><text class="k" x="94" y="127">100</text></g>
<g transform="translate(1267,2345)"><rect width="113" height="102" fill="#fdf6e3"/><rect y="5" width="33" height="41" fill="#03568a"/><rect y="56" width="13" height="41" fill="#ffc72c"/><path class="br" d="M36 25.5H44V77H36"/><text class="a" x="89" y="57">57%**</text><use xlink:href="#fb"/><use xlink:href="#tb"/><text class="t" x="56.5" y="-9">FL</text><text class="k" x="0" y="127">0</text><text class="k" x="94" y="127">100</text></g>
</svg>
</body></html>
